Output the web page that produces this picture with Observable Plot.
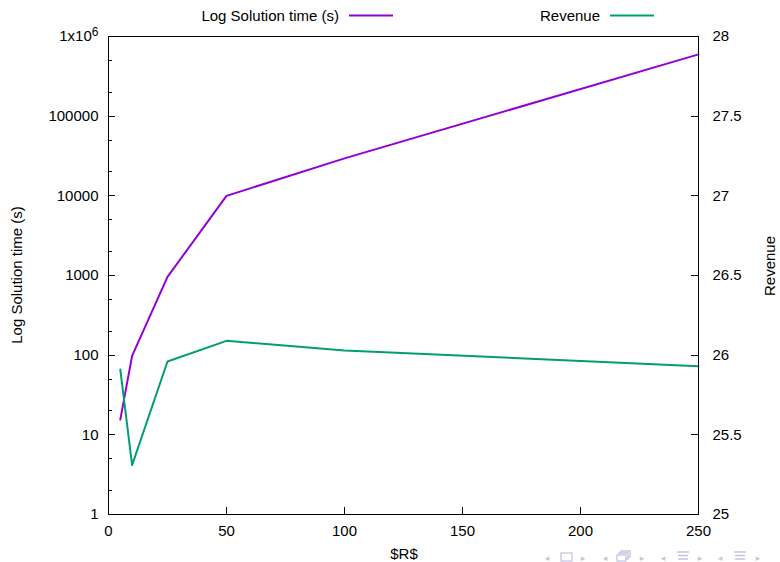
<!DOCTYPE html>
<html><head><meta charset="utf-8">
<script src="https://cdn.jsdelivr.net/npm/d3@7"></script>
<script src="https://cdn.jsdelivr.net/npm/@observablehq/plot@0.6"></script>
<style>
body{margin:0;background:#fff;}
#chart svg{font-family:"Liberation Sans",Arial,sans-serif;}
</style></head><body><div id="chart"></div>
<script>
// ---- data ----
const R = [5, 10, 25, 50, 100, 250];
const solutionTime = [15.5, 98, 960, 10000, 29500, 596000];
const revenue = [25.91, 25.31, 25.96, 26.09, 26.03, 25.93];

const xTicks = [0, 50, 100, 150, 200, 250];
const yTicks = [1, 10, 100, 1000, 10000, 100000, 1000000];
const yTickLabels = ["1", "10", "100", "1000", "10000", "100000", "1x10^6"];
const y2Ticks = [25, 25.5, 26, 26.5, 27, 27.5, 28];
const y2TickLabels = ["25", "25.5", "26", "26.5", "27", "27.5", "28"];
const yMinorMult = [2, 5];

const seriesNames = ["Log Solution time (s)", "Revenue"];
const seriesColors = ["#9400d3", "#009e73"];
const xLabel = "$R$";

// revenue axis (25..28) shares the log scale (1..1e6): 3 units -> 6 decades
const toLeft = r => Math.pow(10, (r - 25) * 2);
const y2Mapped = y2Ticks.map(toLeft);
const yMinor = [];
for (let k = 0; k < 6; k++) for (const m of yMinorMult) yMinor.push(m * Math.pow(10, k));

const timeData = R.map((r, i) => ({r, v: solutionTime[i]}));
const revData = R.map((r, i) => ({r, v: toLeft(revenue[i])}));

const M = {left: 108, right: 82, top: 36, bottom: 48};
const W = 780, H = 562;

const chart = Plot.plot({
  width: W, height: H,
  marginLeft: M.left, marginRight: M.right, marginTop: M.top, marginBottom: M.bottom,
  style: {fontFamily: "Liberation Sans, Arial, sans-serif", fontSize: "15px", color: "#000", background: "#fff", overflow: "visible"},
  x: {domain: [0, 250]},
  y: {type: "log", domain: [1, 1e6]},
  marks: [
    Plot.line(timeData, {x: "r", y: "v", stroke: seriesColors[0], strokeWidth: 2}),
    Plot.line(revData, {x: "r", y: "v", stroke: seriesColors[1], strokeWidth: 2}),
    Plot.axisX({ticks: xTicks, tickSize: 0, tickPadding: 11, tickFormat: d => String(d), label: null, fill: "#000"}),
    Plot.axisY({ticks: yTicks, tickSize: 0, tickPadding: 10, tickFormat: d => yTickLabels[yTicks.indexOf(d)], label: null, fill: "#000"}),
    Plot.axisY({anchor: "right", ticks: y2Mapped, tickSize: 0, tickPadding: 14,
      tickFormat: d => { let best = 0; y2Mapped.forEach((v, i) => { if (Math.abs(Math.log10(v) - Math.log10(d)) < Math.abs(Math.log10(y2Mapped[best]) - Math.log10(d))) best = i; }); return y2TickLabels[best]; },
      label: null, fill: "#000"}),
    Plot.frame({stroke: "#000", strokeWidth: 1})
  ]
});
document.getElementById("chart").appendChild(chart);

const svg = d3.select(chart);
const sx = chart.scale("x"), sy = chart.scale("y");
const X0 = M.left, X1 = W - M.right, Y1 = H - M.bottom;
const px = v => Math.round(v) + 0.5;

// inward ticks, positioned with Plot's own scales
const tg = svg.append("g").attr("stroke", "#000").attr("stroke-width", 1);
xTicks.forEach(v => { const x = px(sx.apply(v)); tg.append("line").attr("x1", x).attr("x2", x).attr("y1", Y1).attr("y2", Y1 - 7); });
yTicks.forEach(v => { const y = px(sy.apply(v)); tg.append("line").attr("x1", X0).attr("x2", X0 + 7).attr("y1", y).attr("y2", y); });
yMinor.forEach(v => { const y = px(sy.apply(v)); tg.append("line").attr("x1", X0).attr("x2", X0 + 4).attr("y1", y).attr("y2", y); });
y2Mapped.forEach(v => { const y = px(sy.apply(v)); tg.append("line").attr("x1", X1).attr("x2", X1 - 7).attr("y1", y).attr("y2", y); });

// superscript for 1x10^6
svg.selectAll("text").each(function() {
  if (this.textContent === "1x10^6") {
    const t = d3.select(this);
    t.text("1x10");
    t.append("tspan").attr("dy", "-0.45em").attr("font-size", "12px").text("6");
  }
});

// axis titles
svg.append("text").attr("transform", "translate(22,275) rotate(-90)")
  .attr("text-anchor", "middle").attr("font-size", 15).attr("fill", "#000").text(seriesNames[0]);
svg.append("text").attr("transform", "translate(775,266) rotate(-90)")
  .attr("text-anchor", "middle").attr("font-size", 15).attr("fill", "#000").text(seriesNames[1]);
svg.append("text").attr("x", 404).attr("y", 559)
  .attr("text-anchor", "middle").attr("font-size", 15).attr("fill", "#000").text(xLabel);

// legend (top)
const legendPos = [{tx: 339, l1: 349, l2: 393}, {tx: 600, l1: 610, l2: 654}];
legendPos.forEach((p, i) => {
  svg.append("text").attr("x", p.tx).attr("y", 21).attr("text-anchor", "end")
    .attr("font-size", 15).attr("fill", "#000").text(seriesNames[i]);
  svg.append("line").attr("x1", p.l1).attr("x2", p.l2).attr("y1", 15.5).attr("y2", 15.5)
    .attr("stroke", seriesColors[i]).attr("stroke-width", 2);
});

// beamer navigation symbols (decorative)
const navColor = "#c5c5e3";
const nav = svg.append("g").attr("fill", navColor).attr("font-family", "DejaVu Sans").attr("font-size", 9).attr("text-anchor", "middle");
[[547, "◂"], [583, "▸"], [605, "◂"], [642, "▸"], [663, "◂"], [700, "▸"], [720, "◂"], [758, "▸"]]
  .forEach(([x, s]) => nav.append("text").attr("x", x).attr("y", 561).text(s));
const g2 = svg.append("g").attr("fill", "none").attr("stroke", navColor).attr("stroke-width", 1.3);
g2.append("rect").attr("x", 561).attr("y", 553).attr("width", 11).attr("height", 8);
g2.append("rect").attr("x", 617).attr("y", 555).attr("width", 9).attr("height", 6);
g2.append("path").attr("d", "M619,555 V553 H628 V559 H626 M621,553 V551 H630 V557 H628");
[[678, 688], [735, 745]].forEach(([a, b]) => {
  g2.append("path").attr("d", `M${a - 1},552 H${b + 1} M${a},555.5 H${b} M${a},559 H${b}`);
});
</script></body></html>
